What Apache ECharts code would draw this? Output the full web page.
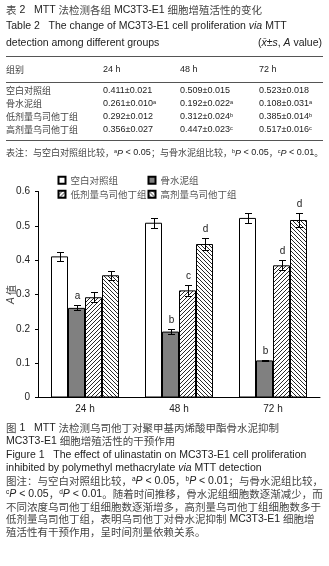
<!DOCTYPE html>
<html>
<head>
<meta charset="utf-8">
<script src="https://cdn.jsdelivr.net/npm/echarts@6/dist/echarts.min.js"></script>
<style>
html, body { margin: 0; padding: 0; background: #fff; }
#main { width: 329px; height: 566px; }
</style>
</head>
<body>
<div id="main"></div>
<script>
// 数据
var categories = ['24 h', '48 h', '72 h'];
var groupNames = ['空白对照组', '骨水泥组', '低剂量乌司他丁组', '高剂量乌司他丁组'];
var blankMean  = [0.411, 0.509, 0.523];
var cementMean = [0.261, 0.192, 0.108];
var lowMean    = [0.292, 0.312, 0.385];
var highMean   = [0.356, 0.447, 0.517];
// 表中的标准差
var blankSd  = [0.021, 0.015, 0.018];
var cementSd = [0.010, 0.022, 0.031];
var lowSd    = [0.012, 0.024, 0.014];
var highSd   = [0.027, 0.023, 0.016];
// 图中误差线长度
var blankErr  = [0.013, 0.015, 0.015];
var cementErr = [0.007, 0.007, 0.002];
var lowErr    = [0.014, 0.015, 0.015];
var highErr   = [0.013, 0.018, 0.020];
// 图中显著性字母
var cementSig = ['a', 'b', 'b'];
var lowSig    = ['', 'c', 'd'];
var highSig   = ['', 'd', 'd'];
// 表中上标
var cementSup = ['a', 'a', 'a'];
var lowSup    = ['', 'b', 'b'];
var highSup   = ['', 'c', 'c'];
var yMin = 0, yMax = 0.6, yStep = 0.1;

var LAT = '"Liberation Sans", "Noto Sans CJK SC", sans-serif';
var CJK = '"Noto Sans CJK SC", sans-serif';
var BAR_W = 17;

function hatch(dir) {
    var c = document.createElement('canvas');
    c.width = 4; c.height = 4;
    var g = c.getContext('2d');
    g.fillStyle = '#fff'; g.fillRect(0, 0, 4, 4);
    g.strokeStyle = '#111'; g.lineWidth = 0.9;
    g.beginPath();
    if (dir > 0) {
        g.moveTo(0, 4); g.lineTo(4, 0);
        g.moveTo(-1, 1); g.lineTo(1, -1);
        g.moveTo(3, 5); g.lineTo(5, 3);
    } else {
        g.moveTo(0, 0); g.lineTo(4, 4);
        g.moveTo(-1, 3); g.lineTo(1, 5);
        g.moveTo(3, -1); g.lineTo(5, 1);
    }
    g.stroke();
    return c;
}

// 中文部分换成灰色 rich 片段
function rt(str) {
    return str.replace(/[\u3000-\u9fff\uff00-\uffef]+/g, function (m) { return '{c|' + m + '}'; });
}
function richSet(size) {
    return {
        c: { fontFamily: CJK, fontSize: size, fill: '#444' },
        i: { fontFamily: LAT, fontSize: size, fontStyle: 'italic', fill: '#222' },
        s: { fontFamily: LAT, fontSize: size * 0.62, fill: '#222', verticalAlign: 'top' }
    };
}
function txt(str, x, y, size, align) {
    return {
        type: 'text', x: x, y: y, silent: true,
        style: {
            text: rt(str), rich: richSet(size),
            font: size + 'px ' + LAT, fontSize: size, fontFamily: LAT, fill: '#222',
            align: align || 'left', textAlign: align || 'left',
            verticalAlign: 'middle', textVerticalAlign: 'middle'
        }
    };
}
function hline(y) {
    return { type: 'line', silent: true, shape: { x1: 6, y1: y, x2: 323, y2: y }, style: { stroke: '#555', lineWidth: 1 } };
}
function cell(m, sd, sup) {
    return m.toFixed(3) + '±' + sd.toFixed(3) + (sup ? '{s|' + sup + '}' : '');
}

// 表格
var tableRows = [
    [groupNames[0], blankMean, blankSd, ['', '', '']],
    [groupNames[1], cementMean, cementSd, cementSup],
    [groupNames[2], lowMean, lowSd, lowSup],
    [groupNames[3], highMean, highSd, highSup]
];
var colX = [103, 180, 259];
var graphics = [
    txt('表 2   MTT 法检测各组 MC3T3-E1 细胞增殖活性的变化', 6, 10, 10.5),
    txt('Table 2   The change of MC3T3-E1 cell proliferation {i|via} MTT', 6, 26, 10.5),
    txt('detection among different groups', 6, 43, 10.5),
    txt('({i|x̄}±{i|s}, {i|A} value)', 322, 43, 10.5, 'right'),
    hline(56.5), hline(82.5), hline(140.5),
    txt('组别', 6, 70, 9)
];
categories.forEach(function (c, j) { graphics.push(txt(c, colX[j], 70, 9)); });
tableRows.forEach(function (r, i) {
    var y = 91 + i * 13;
    graphics.push(txt(r[0], 6, y, 9));
    for (var j = 0; j < 3; j++) graphics.push(txt(cell(r[1][j], r[2][j], r[3][j]), colX[j], y, 9));
});
graphics.push(txt('表注：与空白对照组比较，{s|a}{i|P} < 0.05；与骨水泥组比较，{s|b}{i|P} < 0.05，{s|c}{i|P} < 0.01。', 6, 153, 9));

// 图注
var captions = [
    ['图 1   MTT 法检测乌司他丁对聚甲基丙烯酸甲酯骨水泥抑制', 428],
    ['MC3T3-E1 细胞增殖活性的干预作用', 441.5],
    ['Figure 1   The effect of ulinastatin on MC3T3-E1 cell proliferation', 455.5],
    ['inhibited by polymethyl methacrylate {i|via} MTT detection', 468.5],
    ['图注：与空白对照组比较，{s|a}{i|P} < 0.05，{s|b}{i|P} < 0.01；与骨水泥组比较，', 481.5],
    ['{s|c}{i|P} < 0.05，{s|d}{i|P} < 0.01。随着时间推移，骨水泥组细胞数逐渐减少，而', 494.5],
    ['不同浓度乌司他丁组细胞数逐渐增多，高剂量乌司他丁组细胞数多于', 507],
    ['低剂量乌司他丁组，表明乌司他丁对骨水泥抑制 MC3T3-E1 细胞增', 519.5],
    ['殖活性有干预作用，呈时间剂量依赖关系。', 532]
];
captions.forEach(function (c) { graphics.push(txt(c[0], 6, c[1], 10.5)); });

// 误差线 + 字母
function errorSeries(idx, means, errs, sig) {
    return {
        type: 'custom',
        name: groupNames[idx] + '_err',
        z: 10,
        silent: true,
        data: means.map(function (m, i) { return [i, m + errs[i], m - errs[i]]; }),
        renderItem: function (params, api) {
            var top = api.coord([api.value(0), api.value(1)]);
            var bot = api.coord([api.value(0), api.value(2)]);
            var cx = Math.round(top[0] + (idx - 1.5) * BAR_W) + 0.5;
            var ty = Math.round(top[1]) + 0.5, by = Math.round(bot[1]) + 0.5;
            var ls = { stroke: '#000', lineWidth: 1 };
            var kids = [
                { type: 'line', shape: { x1: cx, y1: ty, x2: cx, y2: by }, style: ls },
                { type: 'line', shape: { x1: cx - 3.5, y1: ty, x2: cx + 3.5, y2: ty }, style: ls },
                { type: 'line', shape: { x1: cx - 3.5, y1: by, x2: cx + 3.5, y2: by }, style: ls }
            ];
            var s = sig[params.dataIndex];
            if (s) {
                kids.push({
                    type: 'text', x: cx, y: ty - 4,
                    style: { text: s, font: '10px ' + LAT, fill: '#222', align: 'center', verticalAlign: 'bottom',
                             textAlign: 'center', textVerticalAlign: 'bottom' }
                });
            }
            return { type: 'group', children: kids };
        }
    };
}

function legendAt(name, left, top) {
    return {
        data: [name], left: left, top: top, padding: 0,
        itemWidth: 7, itemHeight: 7, icon: 'rect', selectedMode: false,
        textStyle: { fontFamily: CJK, fontSize: 9.5, color: '#555' }
    };
}

var chart = echarts.init(document.getElementById('main'));
var border = { borderColor: '#000', borderWidth: 1 };
var option = {
    animation: false,
    backgroundColor: '#fff',
    graphic: graphics,
    legend: [
        legendAt(groupNames[0], 57.5, 175.5),
        legendAt(groupNames[1], 147.5, 175.5),
        legendAt(groupNames[2], 57.5, 189.5),
        legendAt(groupNames[3], 147.5, 189.5)
    ],
    grid: { left: 38, right: 9, top: 191.5, bottom: 168.5, containLabel: false, outerBoundsMode: 'none' },
    xAxis: {
        type: 'category',
        data: categories,
        axisLine: { lineStyle: { color: '#000', width: 1 } },
        axisTick: { inside: true, length: 5, lineStyle: { color: '#000' } },
        axisLabel: { margin: 7, color: '#222', fontFamily: LAT, fontSize: 10 }
    },
    yAxis: {
        type: 'value',
        min: yMin, max: yMax, interval: yStep,
        name: '{i|A} 值',
        nameLocation: 'middle',
        nameGap: 22,
        nameMoveOverlap: false,
        nameTextStyle: {
            fontSize: 10, color: '#444', fontFamily: CJK,
            rich: { i: { fontFamily: LAT, fontStyle: 'italic', fontSize: 10, color: '#444' } }
        },
        axisLine: { show: true, lineStyle: { color: '#000', width: 1 } },
        axisTick: { show: true, length: 3, lineStyle: { color: '#000' } },
        splitLine: { show: false },
        axisLabel: { margin: 8, color: '#222', fontFamily: LAT, fontSize: 10 }
    },
    series: [
        { type: 'bar', name: groupNames[0], data: blankMean, barWidth: BAR_W, barGap: '0%',
          itemStyle: Object.assign({ color: '#fff' }, border) },
        { type: 'bar', name: groupNames[1], data: cementMean, barWidth: BAR_W, barGap: '0%',
          itemStyle: Object.assign({ color: '#808080' }, border) },
        { type: 'bar', name: groupNames[2], data: lowMean, barWidth: BAR_W, barGap: '0%',
          itemStyle: Object.assign({ color: { image: hatch(1), repeat: 'repeat' } }, border) },
        { type: 'bar', name: groupNames[3], data: highMean, barWidth: BAR_W, barGap: '0%',
          itemStyle: Object.assign({ color: { image: hatch(-1), repeat: 'repeat' } }, border) },
        errorSeries(0, blankMean, blankErr, ['', '', '']),
        errorSeries(1, cementMean, cementErr, cementSig),
        errorSeries(2, lowMean, lowErr, lowSig),
        errorSeries(3, highMean, highErr, highSig)
    ]
};
chart.setOption(option);
</script>
</body>
</html>
